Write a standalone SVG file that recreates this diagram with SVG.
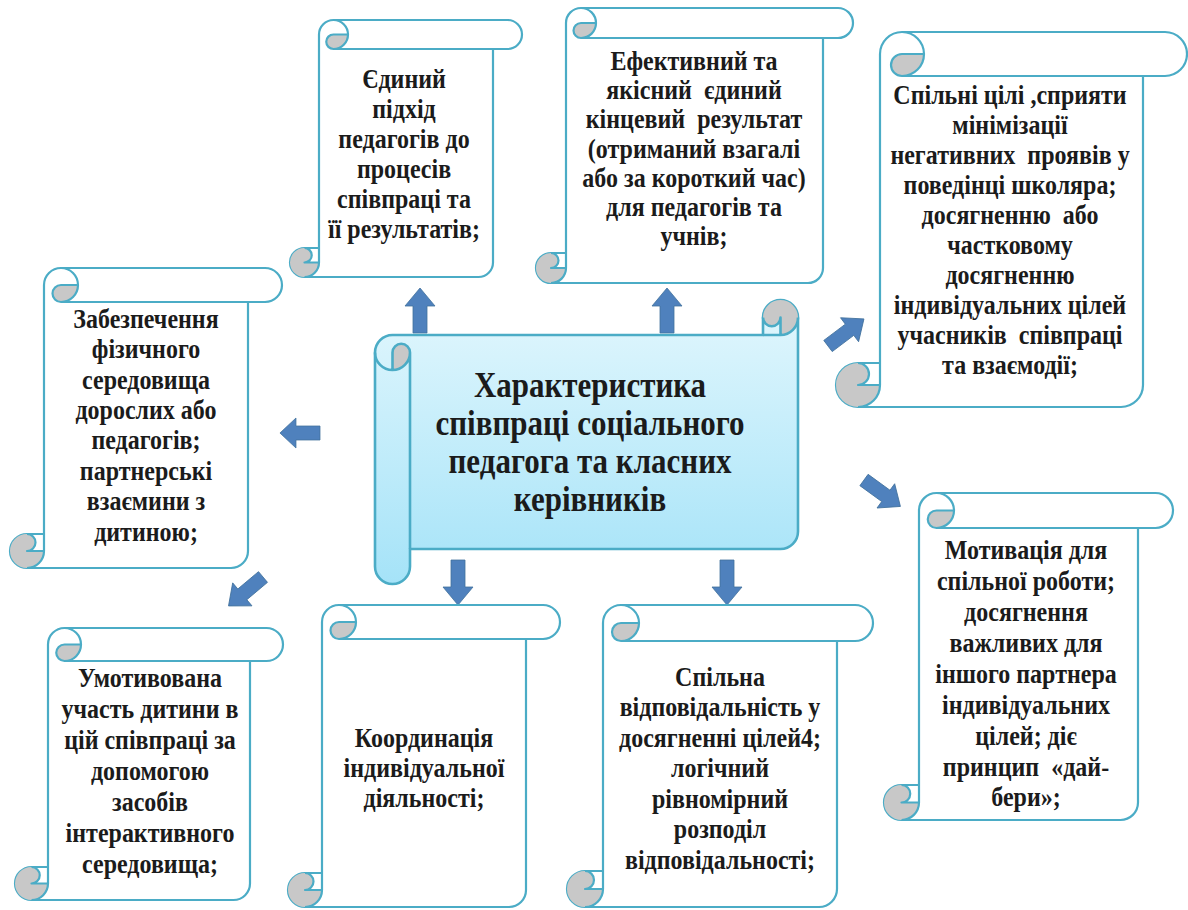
<svg xmlns="http://www.w3.org/2000/svg" xmlns:xlink="http://www.w3.org/1999/xlink" width="1188" height="910" viewBox="0 0 1188 910">
<defs>
<style>
.sc{fill:#ffffff;stroke:#4bacc6;stroke-width:2.2;stroke-linejoin:round}
.gr{fill:#c8c8c8;stroke:none}
.ln{fill:none;stroke:#4bacc6;stroke-width:2.2;stroke-linejoin:round}
.cs{fill:url(#cg);stroke:#4bacc6;stroke-width:2.6;stroke-linejoin:round}
.t{font-family:"Liberation Serif","DejaVu Serif",serif;font-weight:bold;font-size:24px;fill:#1b1b1b;text-anchor:middle}
.tt{font-family:"Liberation Serif","DejaVu Serif",serif;font-weight:bold;font-size:31px;fill:#1b1b1b;text-anchor:middle}
.ar{fill:#4f81bd;stroke:#41719c;stroke-width:0.8}
</style>
<linearGradient id="cg" x1="0" y1="0" x2="0" y2="1">
<stop offset="0" stop-color="#e2f7fd"/>
<stop offset="1" stop-color="#a5e3f8"/>
</linearGradient>
<path id="arr" d="M0,-7 L27,-7 L27,-15 L45,0 L27,15 L27,7 L0,7 Z"/>
</defs>

<g id="connectors">
<use href="#arr" class="ar" transform="translate(420,333) rotate(-90)"/>
<use href="#arr" class="ar" transform="translate(667,333) rotate(-90)"/>
<use href="#arr" class="ar" transform="translate(458,560) rotate(90)"/>
<use href="#arr" class="ar" transform="translate(727,560) rotate(90)"/>
<use href="#arr" class="ar" transform="translate(320,433) rotate(180) scale(0.89,1)"/>
<use href="#arr" class="ar" transform="translate(828,346) rotate(-37)"/>
<use href="#arr" class="ar" transform="translate(864,480) rotate(36)"/>
<use href="#arr" class="ar" transform="translate(263,577) rotate(140)"/>
</g>

<g id="center">
<g transform="translate(375,300)">
<path class="cs" d="M388,35 L17.5,35 A17.5,17.5 0 0 0 0,52.5 L0,266.5 A17.5,17.5 0 0 0 35,266.5 L35,249 L405.5,249 A17.5,17.5 0 0 0 423,231.5 L423,17.5 A17.5,17.5 0 0 0 388,17.5 Z"/>
<path class="gr" d="M17.5,70 A17.5,17.5 0 0 0 35,52.5 A8.75,8.75 0 0 0 17.5,52.5 Z M405.5,35 A17.5,17.5 0 1 0 388,17.5 A8.75,8.75 0 0 0 405.5,17.5 Z"/>
<path class="ln" style="stroke-width:2.6" d="M0,52.5 A17.5,17.5 0 0 0 35,52.5 A8.75,8.75 0 0 0 17.5,52.5 L17.5,70 M35,249 L35,52.5 M388,17.5 A8.75,8.75 0 0 0 405.5,17.5 L405.5,35 M423,17.5 A17.5,17.5 0 0 1 405.5,35 L388,35"/>
</g>
<text class="tt" transform="translate(590,397) scale(1,1.15)"><tspan x="0" y="0">Характеристика</tspan><tspan x="0" y="33">співпраці соціального</tspan><tspan x="0" y="66">педагога та класних</tspan><tspan x="0" y="99">керівників</tspan></text>
</g>

<g id="node-a">
<g transform="translate(290,20)">
<path class="sc" d="M29,228 L29,14.5 A14.5,14.5 0 0 1 43.5,0 L217.5,0 A14.5,14.5 0 0 1 217.5,29 L203,29 L203,242.5 A14.5,14.5 0 0 1 188.5,257 L14.5,257 A14.5,14.5 0 0 1 14.5,228 Z"/>
<path class="gr" d="M58,14.5 A14.5,14.5 0 0 1 43.5,29 A7.25,7.25 0 0 1 43.5,14.5 Z M29,242.5 A14.5,14.5 0 1 1 14.5,228 A7.25,7.25 0 0 1 14.5,242.5 Z"/>
<path class="ln" d="M43.5,0 A14.5,14.5 0 0 1 43.5,29 A7.25,7.25 0 0 1 43.5,14.5 L58,14.5 M203,29 L43.5,29 M14.5,228 A7.25,7.25 0 0 1 14.5,242.5 L29,242.5 M14.5,257 A14.5,14.5 0 0 0 29,242.5 L29,228"/>
</g>
<text class="t" transform="translate(404,88) scale(1,1.15)"><tspan x="0" y="0">Єдиний</tspan><tspan x="0" y="26.1">підхід</tspan><tspan x="0" y="52.2">педагогів до</tspan><tspan x="0" y="78.3">процесів</tspan><tspan x="0" y="104.4">співпраці та</tspan><tspan x="0" y="130.5">її результатів;</tspan></text>
</g>

<g id="node-b">
<g transform="translate(536,8)">
<path class="sc" d="M30,245 L30,15 A15,15 0 0 1 45,0 L302,0 A15,15 0 0 1 302,30 L287,30 L287,260 A15,15 0 0 1 272,275 L15,275 A15,15 0 0 1 15,245 Z"/>
<path class="gr" d="M60,15 A15,15 0 0 1 45,30 A7.5,7.5 0 0 1 45,15 Z M30,260 A15,15 0 1 1 15,245 A7.5,7.5 0 0 1 15,260 Z"/>
<path class="ln" d="M45,0 A15,15 0 0 1 45,30 A7.5,7.5 0 0 1 45,15 L60,15 M287,30 L45,30 M15,245 A7.5,7.5 0 0 1 15,260 L30,260 M15,275 A15,15 0 0 0 30,260 L30,245"/>
</g>
<text class="t" transform="translate(694,70) scale(1,1.15)"><tspan x="0" y="0">Ефективний та</tspan><tspan x="0" y="25.4">якісний&#160; єдиний</tspan><tspan x="0" y="50.8">кінцевий&#160; результат</tspan><tspan x="0" y="76.2">(отриманий взагалі</tspan><tspan x="0" y="101.6">або за короткий час)</tspan><tspan x="0" y="127">для педагогів та</tspan><tspan x="0" y="152.4">учнів;</tspan></text>
</g>

<g id="node-c">
<g transform="translate(836,32)">
<path class="sc" d="M44,331 L44,22 A22,22 0 0 1 66,0 L329,0 A22,22 0 0 1 329,44 L307,44 L307,353 A22,22 0 0 1 285,375 L22,375 A22,22 0 0 1 22,331 Z"/>
<path class="gr" d="M88,22 A22,22 0 0 1 66,44 A11,11 0 0 1 66,22 Z M44,353 A22,22 0 1 1 22,331 A11,11 0 0 1 22,353 Z"/>
<path class="ln" d="M66,0 A22,22 0 0 1 66,44 A11,11 0 0 1 66,22 L88,22 M307,44 L66,44 M22,331 A11,11 0 0 1 22,353 L44,353 M22,375 A22,22 0 0 0 44,353 L44,331"/>
</g>
<text class="t" transform="translate(1010,104) scale(1,1.15)"><tspan x="0" y="0">Спільні цілі ,сприяти</tspan><tspan x="0" y="26.1">мінімізації</tspan><tspan x="0" y="52.2">негативних&#160; проявів у</tspan><tspan x="0" y="78.3">поведінці школяра;</tspan><tspan x="0" y="104.4">досягненню&#160; або</tspan><tspan x="0" y="130.5">частковому</tspan><tspan x="0" y="156.6">досягненню</tspan><tspan x="0" y="182.7">індивідуальних цілей</tspan><tspan x="0" y="208.8">учасників&#160; співпраці</tspan><tspan x="0" y="234.9">та взаємодії;</tspan></text>
</g>

<g id="node-d">
<g transform="translate(884,493)">
<path class="sc" d="M35,292 L35,17.5 A17.5,17.5 0 0 1 52.5,0 L271.5,0 A17.5,17.5 0 0 1 271.5,35 L254,35 L254,309.5 A17.5,17.5 0 0 1 236.5,327 L17.5,327 A17.5,17.5 0 0 1 17.5,292 Z"/>
<path class="gr" d="M70,17.5 A17.5,17.5 0 0 1 52.5,35 A8.75,8.75 0 0 1 52.5,17.5 Z M35,309.5 A17.5,17.5 0 1 1 17.5,292 A8.75,8.75 0 0 1 17.5,309.5 Z"/>
<path class="ln" d="M52.5,0 A17.5,17.5 0 0 1 52.5,35 A8.75,8.75 0 0 1 52.5,17.5 L70,17.5 M254,35 L52.5,35 M17.5,292 A8.75,8.75 0 0 1 17.5,309.5 L35,309.5 M17.5,327 A17.5,17.5 0 0 0 35,309.5 L35,292"/>
</g>
<text class="t" transform="translate(1026,559) scale(1,1.15)"><tspan x="0" y="0">Мотивація для</tspan><tspan x="0" y="26.9">спільної роботи;</tspan><tspan x="0" y="53.8">досягнення</tspan><tspan x="0" y="80.7">важливих для</tspan><tspan x="0" y="107.6">іншого партнера</tspan><tspan x="0" y="134.5">індивідуальних</tspan><tspan x="0" y="161.4">цілей; діє</tspan><tspan x="0" y="188.3">принцип&#160; «дай-</tspan><tspan x="0" y="215.2">бери»;</tspan></text>
</g>

<g id="node-e">
<g transform="translate(10,268)">
<path class="sc" d="M34,266 L34,17 A17,17 0 0 1 51,0 L255,0 A17,17 0 0 1 255,34 L238,34 L238,283 A17,17 0 0 1 221,300 L17,300 A17,17 0 0 1 17,266 Z"/>
<path class="gr" d="M68,17 A17,17 0 0 1 51,34 A8.5,8.5 0 0 1 51,17 Z M34,283 A17,17 0 1 1 17,266 A8.5,8.5 0 0 1 17,283 Z"/>
<path class="ln" d="M51,0 A17,17 0 0 1 51,34 A8.5,8.5 0 0 1 51,17 L68,17 M238,34 L51,34 M17,266 A8.5,8.5 0 0 1 17,283 L34,283 M17,300 A17,17 0 0 0 34,283 L34,266"/>
</g>
<text class="t" transform="translate(146,328) scale(1,1.15)"><tspan x="0" y="0">Забезпечення</tspan><tspan x="0" y="26.4">фізичного</tspan><tspan x="0" y="52.8">середовища</tspan><tspan x="0" y="79.2">дорослих або</tspan><tspan x="0" y="105.6">педагогів;</tspan><tspan x="0" y="132">партнерські</tspan><tspan x="0" y="158.4">взаємини з</tspan><tspan x="0" y="184.8">дитиною;</tspan></text>
</g>

<g id="node-f">
<g transform="translate(15,628)">
<path class="sc" d="M33,239 L33,16.5 A16.5,16.5 0 0 1 49.5,0 L251.5,0 A16.5,16.5 0 0 1 251.5,33 L235,33 L235,255.5 A16.5,16.5 0 0 1 218.5,272 L16.5,272 A16.5,16.5 0 0 1 16.5,239 Z"/>
<path class="gr" d="M66,16.5 A16.5,16.5 0 0 1 49.5,33 A8.25,8.25 0 0 1 49.5,16.5 Z M33,255.5 A16.5,16.5 0 1 1 16.5,239 A8.25,8.25 0 0 1 16.5,255.5 Z"/>
<path class="ln" d="M49.5,0 A16.5,16.5 0 0 1 49.5,33 A8.25,8.25 0 0 1 49.5,16.5 L66,16.5 M235,33 L49.5,33 M16.5,239 A8.25,8.25 0 0 1 16.5,255.5 L33,255.5 M16.5,272 A16.5,16.5 0 0 0 33,255.5 L33,239"/>
</g>
<text class="t" transform="translate(150,687) scale(1,1.15)"><tspan x="0" y="0">Умотивована</tspan><tspan x="0" y="27">участь дитини в</tspan><tspan x="0" y="54">цій співпраці за</tspan><tspan x="0" y="81">допомогою</tspan><tspan x="0" y="108">засобів</tspan><tspan x="0" y="135">інтерактивного</tspan><tspan x="0" y="162">середовища;</tspan></text>
</g>

<g id="node-g">
<g transform="translate(288,605)">
<path class="sc" d="M34,268 L34,17 A17,17 0 0 1 51,0 L255,0 A17,17 0 0 1 255,34 L238,34 L238,285 A17,17 0 0 1 221,302 L17,302 A17,17 0 0 1 17,268 Z"/>
<path class="gr" d="M68,17 A17,17 0 0 1 51,34 A8.5,8.5 0 0 1 51,17 Z M34,285 A17,17 0 1 1 17,268 A8.5,8.5 0 0 1 17,285 Z"/>
<path class="ln" d="M51,0 A17,17 0 0 1 51,34 A8.5,8.5 0 0 1 51,17 L68,17 M238,34 L51,34 M17,268 A8.5,8.5 0 0 1 17,285 L34,285 M17,302 A17,17 0 0 0 34,285 L34,268"/>
</g>
<text class="t" transform="translate(424,747) scale(1,1.15)"><tspan x="0" y="0">Координація</tspan><tspan x="0" y="26.1">індивідуальної</tspan><tspan x="0" y="52.2">діяльності;</tspan></text>
</g>

<g id="node-h">
<g transform="translate(567,605)">
<path class="sc" d="M36,266 L36,18 A18,18 0 0 1 54,0 L288,0 A18,18 0 0 1 288,36 L270,36 L270,284 A18,18 0 0 1 252,302 L18,302 A18,18 0 0 1 18,266 Z"/>
<path class="gr" d="M72,18 A18,18 0 0 1 54,36 A9,9 0 0 1 54,18 Z M36,284 A18,18 0 1 1 18,266 A9,9 0 0 1 18,284 Z"/>
<path class="ln" d="M54,0 A18,18 0 0 1 54,36 A9,9 0 0 1 54,18 L72,18 M270,36 L54,36 M18,266 A9,9 0 0 1 18,284 L36,284 M18,302 A18,18 0 0 0 36,284 L36,266"/>
</g>
<text class="t" transform="translate(720,686) scale(1,1.15)"><tspan x="0" y="0">Спільна</tspan><tspan x="0" y="26.5">відповідальність у</tspan><tspan x="0" y="53">досягненні цілей4;</tspan><tspan x="0" y="79.5">логічний</tspan><tspan x="0" y="106">рівномірний</tspan><tspan x="0" y="132.5">розподіл</tspan><tspan x="0" y="159">відповідальності;</tspan></text>
</g>
</svg>
